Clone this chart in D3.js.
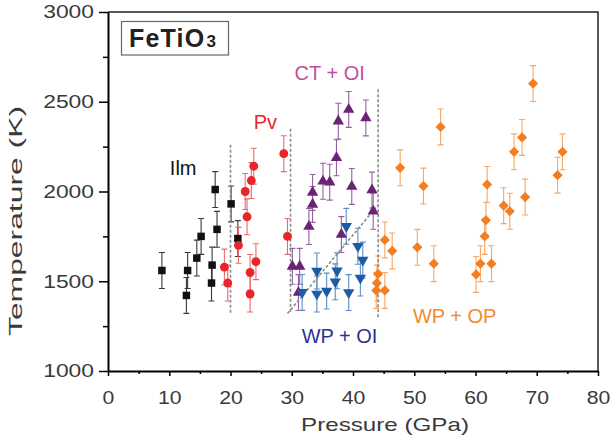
<!DOCTYPE html>
<html>
<head>
<meta charset="utf-8">
<script src="https://cdn.jsdelivr.net/npm/d3@7"></script>
<style>
  body { margin: 0; background: #fff; }
  text { font-family: "Liberation Sans", Arial, sans-serif; }
</style>
</head>
<body>
<div id="chart"></div>
<script>
/* FeTiO3 phase diagram: pressure vs temperature */

// Ilmenite
const ilmP = [8.8, 12.8, 13.0, 14.5, 15.2, 17.0, 16.9, 17.5, 17.8, 20.1, 21.2];
const ilmT = [1560, 1421, 1560, 1629, 1750, 1590, 1490, 2011, 1789, 1931, 1738];
// Perovskite
const pvP = [19.0, 19.55, 21.3, 22.4, 22.7, 23.2, 23.2, 23.4, 23.8, 24.15, 28.7, 29.3];
const pvT = [1579, 1490, 1700, 2000, 1859, 1549, 1429, 2061, 2141, 1609, 2211, 1750];
// CT + OI
const ctP = [30.1, 31.3, 31.1, 32.8, 33.4, 33.4, 35.1, 36.2, 37.3, 37.6, 39.3, 39.8, 42.1, 43.1, 43.3, 38.1];
const ctT = [1583, 1583, 1437, 1805, 1928, 1995, 2057, 2052, 2188, 2392, 2457, 2028, 2410, 2008, 1890, 1760];
// WP + OI
const wpoiP = [31.7, 34.1, 34.1, 35.7, 37.1, 37.4, 39.3, 38.9, 40.8, 41.2, 41.6];
const wpoiT = [1438, 1429, 1557, 1445, 1497, 1558, 1437, 1806, 1695, 1518, 1618];
// WP + OP
const wpopP = [47.7, 51.5, 54.3, 50.5, 53.2, 45.2, 46.4, 44.1, 43.9, 43.8, 45.2, 60.1, 60.8, 62.6, 61.5, 61.7, 61.9, 64.6, 65.6, 68.1, 66.3, 67.6, 69.4, 73.4, 74.2];
const wpopT = [2132, 2030, 2360, 1689, 1598, 1730, 1669, 1541, 1490, 1449, 1449, 1538, 1598, 1598, 1750, 1840, 2039, 1921, 1890, 1969, 2221, 2301, 2601, 2091, 2221];

const tempError = 100; // +/- K on every point

// phase boundaries (dashed), [pressure, temperature]
const boundaries = [
    [[20, 1325], [20, 2270]],
    [[29.8, 1330], [29.8, 2352]],
    [[44.1, 1300], [44.1, 2575]],
    [[29.3, 1320], [44.1, 1925]]
];

const xTicks = [0, 10, 20, 30, 40, 50, 60, 70, 80];
const yTicks = [1000, 1500, 2000, 2500, 3000];

const width = 613,
      height = 441,
      margin = ({ top: 12, right: 15, bottom: 70, left: 108 });

const series = [
    { p: ilmP, t: ilmT, shape: d3.symbolSquare, size: 56, rot: 0, color: "#111111", bar: "#3a3a3a" },
    { p: pvP, t: pvT, shape: d3.symbolCircle, size: 62, rot: 0, color: "#e8262a", bar: "#f0686a" },
    { p: ctP, t: ctT, shape: d3.symbolTriangle, size: 56, rot: 0, color: "#6b2375", bar: "#9462a0" },
    { p: wpoiP, t: wpoiT, shape: d3.symbolTriangle, size: 56, rot: 180, color: "#1f5aa6", bar: "#5f8cc6" },
    { p: wpopP, t: wpopT, shape: d3.symbolSquare, size: 52, rot: 45, color: "#f47d20", bar: "#f7a765" }
];

const labels = [
    { text: "Ilm", p: 10.1, t: 2090, anchor: "start", color: "#111111" },
    { text: "Pv", p: 23.8, t: 2350, anchor: "start", color: "#e8262a" },
    { text: "CT + OI", p: 36.2, t: 2620, anchor: "middle", color: "#c04ea0" },
    { text: "WP + OI", p: 37.8, t: 1157, anchor: "middle", color: "#2e3192" },
    { text: "WP + OP", p: 56.6, t: 1269, anchor: "middle", color: "#f58a2a" }
];

let svg = d3.select("#chart")
    .append("svg")
    .attr("width", width)
    .attr("height", height);

let x = d3.scaleLinear()
    .domain([0, 80])
    .range([margin.left, width - margin.right]);

let y = d3.scaleLinear()
    .domain([1000, 3000])
    .range([height - margin.bottom, margin.top]);

// frame top + right
svg.append("path")
    .attr("d", `M${x(0)},${y(3000)}H${x(80)}V${y(1000)}`)
    .attr("fill", "none")
    .attr("stroke", "#222")
    .attr("stroke-width", 1.5);

// minor ticks
svg.append("g")
    .attr("transform", `translate(0,${y(1000)})`)
    .call(d3.axisBottom(x).tickValues(d3.range(5, 80, 10)).tickSize(3).tickFormat(""))
    .call(g => g.select(".domain").remove())
    .selectAll("line").attr("stroke-width", 1.5);

svg.append("g")
    .attr("transform", `translate(${x(0)},0)`)
    .call(d3.axisLeft(y).tickValues(d3.range(1250, 3000, 500)).tickSize(5).tickFormat(""))
    .call(g => g.select(".domain").remove())
    .selectAll("line").attr("stroke-width", 1.5);

// x axis
let xAxis = svg.append("g")
    .attr("transform", `translate(0,${y(1000)})`)
    .call(d3.axisBottom(x).tickValues(xTicks).tickSize(5).tickPadding(15).tickSizeOuter(0).tickFormat(d3.format("d")));

xAxis.select(".domain").attr("stroke-width", 2);
xAxis.selectAll("line").attr("stroke-width", 1.5);
xAxis.selectAll("text")
    .attr("font-size", 18.5)
    .attr("fill", "#3a3a3a")
    .attr("textLength", d => String(d).length * 11.8)
    .attr("lengthAdjust", "spacingAndGlyphs");

// y axis
let yAxis = svg.append("g")
    .attr("transform", `translate(${x(0)},0)`)
    .call(d3.axisLeft(y).tickValues(yTicks).tickSize(9).tickPadding(5).tickSizeOuter(0).tickFormat(d3.format("d")));

yAxis.select(".domain").attr("stroke-width", 2);
yAxis.selectAll("line").attr("stroke-width", 1.5);
yAxis.selectAll("text")
    .attr("font-size", 18.5)
    .attr("fill", "#3a3a3a")
    .attr("textLength", d => String(d).length * 12.7)
    .attr("lengthAdjust", "spacingAndGlyphs");

// axis titles
svg.append("text")
    .text("Pressure (GPa)")
    .attr("x", 385)
    .attr("y", 431)
    .attr("text-anchor", "middle")
    .attr("font-size", 18.5)
    .attr("fill", "#3a3a3a")
    .attr("textLength", 168)
    .attr("lengthAdjust", "spacingAndGlyphs");

svg.append("text")
    .text("Temperature (K)")
    .attr("transform", "translate(22,221) rotate(-90)")
    .attr("text-anchor", "middle")
    .attr("font-size", 18.5)
    .attr("fill", "#3a3a3a")
    .attr("textLength", 230)
    .attr("lengthAdjust", "spacingAndGlyphs");

// error bars
const cap = 3;
for (let s of series) {
    let pts = s.p.map((p, i) => ({ p: p, t: s.t[i] }));
    let eb = svg.append("g")
        .attr("stroke", s.bar)
        .attr("stroke-width", 1.1)
        .attr("fill", "none");
    eb.selectAll("path")
        .data(pts)
        .join("path")
        .attr("d", d => {
            let cx = x(d.p), y0 = y(d.t - tempError), y1 = y(d.t + tempError);
            return `M${cx},${y0}V${y1}M${cx - cap},${y0}H${cx + cap}M${cx - cap},${y1}H${cx + cap}`;
        });
}

// dashed phase boundaries
svg.append("g")
    .selectAll("line")
    .data(boundaries)
    .join("line")
    .attr("x1", d => x(d[0][0]))
    .attr("y1", d => y(d[0][1]))
    .attr("x2", d => x(d[1][0]))
    .attr("y2", d => y(d[1][1]))
    .attr("stroke", "#8a8a8a")
    .attr("stroke-width", 1.6)
    .attr("stroke-dasharray", "3,2");

// markers
for (let s of series) {
    let pts = s.p.map((p, i) => ({ p: p, t: s.t[i] }));
    svg.append("g")
        .selectAll("path")
        .data(pts)
        .join("path")
        .attr("d", d3.symbol().type(s.shape).size(s.size))
        .attr("transform", d => `translate(${x(d.p)},${y(d.t)}) rotate(${s.rot})`)
        .attr("fill", s.color);
}

// phase labels
svg.append("g")
    .selectAll("text")
    .data(labels)
    .join("text")
    .text(d => d.text)
    .attr("x", d => x(d.p))
    .attr("y", d => y(d.t))
    .attr("text-anchor", d => d.anchor)
    .attr("font-size", 20)
    .attr("fill", d => d.color);

// FeTiO3 box
svg.append("rect")
    .attr("x", 121.5)
    .attr("y", 21.5)
    .attr("width", 107)
    .attr("height", 33.5)
    .attr("fill", "#fff")
    .attr("stroke", "#666")
    .attr("stroke-width", 1.2);

let title = svg.append("text")
    .attr("x", 129)
    .attr("y", 47.3)
    .attr("font-size", 25)
    .attr("font-weight", "bold")
    .attr("fill", "#222")
    .attr("letter-spacing", 1.2);
title.append("tspan").text("FeTiO");
title.append("tspan").text("3").attr("font-size", 17).attr("dx", 1);
</script>
</body>
</html>
